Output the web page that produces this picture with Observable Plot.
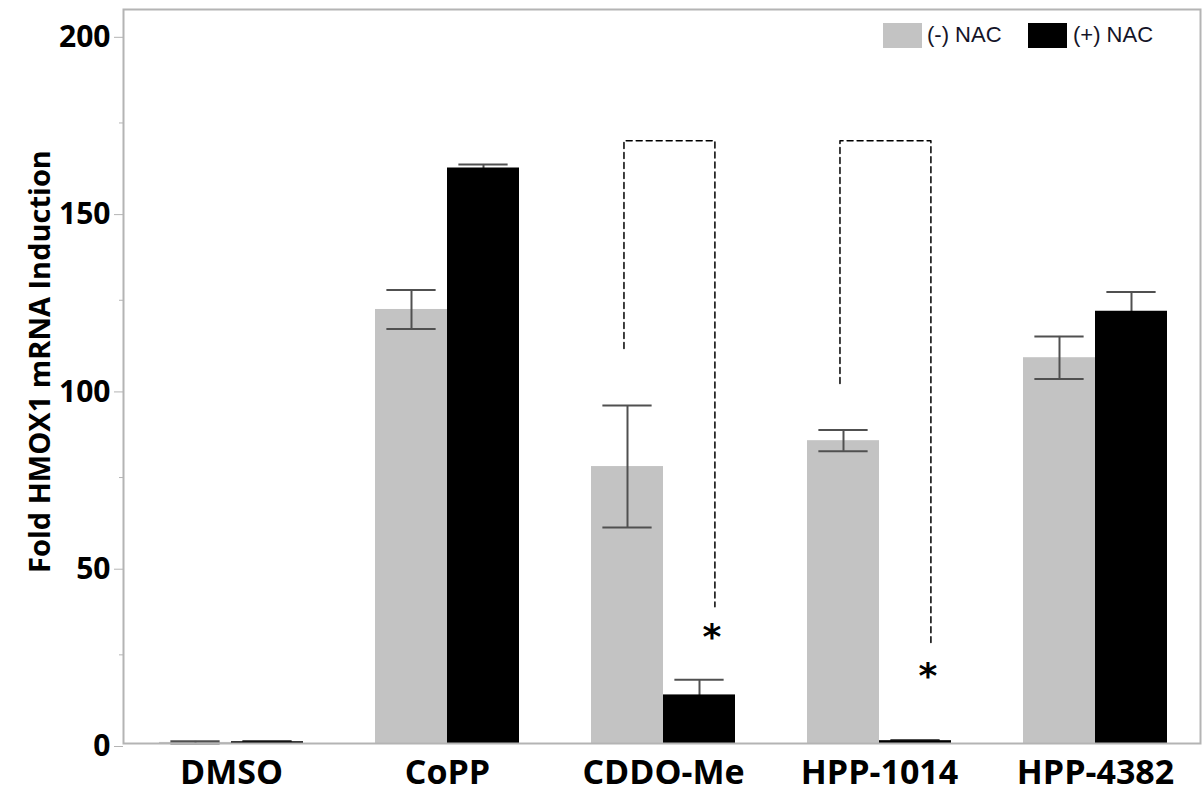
<!DOCTYPE html>
<html>
<head>
<meta charset="utf-8">
<script src="https://cdn.jsdelivr.net/npm/d3@7"></script>
<script src="https://cdn.jsdelivr.net/npm/@observablehq/plot@0.6"></script>
<style>
  html, body { margin: 0; padding: 0; background: #fff; }
  #wrap { position: relative; width: 1202px; height: 794px; }
  .leg { position: absolute; font-family: "Liberation Sans", Arial, sans-serif; font-size: 22px; color: #141428; }
  .sw { position: absolute; width: 39px; height: 25px; }
</style>
</head>
<body>
<div id="wrap"></div>
<script>
// ---- data ----
const groups = ["DMSO", "CoPP", "CDDO-Me", "HPP-1014", "HPP-4382"];
const series = ["(-) NAC", "(+) NAC"];
const minusNAC = [0.3, 122.4, 78.1, 85.4, 108.8];
const minusErr = [0.3, 5.5, 17.2, 3.0, 6.0];
const plusNAC  = [0.5, 162.3, 13.7, 0.8, 121.9];
const plusErr  = [0.2, 1.0, 4.3, 0.2, 5.4];
const yTicks = [0, 50, 100, 150, 200];
const yMinorTicks = [25, 75, 125, 175];
// significance brackets
const bracketGroups = ["CDDO-Me", "HPP-1014"];
const bracketLeftBottom = [111.4, 101.5];
const bracketRightBottom = [38.6, 28.5];
const bracketTop = [170, 170];
const starGroups = ["CDDO-Me", "HPP-1014"];
const starValues = [30, 18.8];

// ---- build tables ----
const gi = g => groups.indexOf(g);
const minusRows = groups.map((g, i) => ({group: g, series: series[0], value: minusNAC[i], err: minusErr[i]}));
const plusRows  = groups.map((g, i) => ({group: g, series: series[1], value: plusNAC[i], err: plusErr[i]}));

const BW = 1 / 3;        // bar width in group units
const CAP = 0.114;       // half cap width
const offL = -0.183, offR = 0.238;

const brackets = bracketGroups.flatMap((g, k) => {
  const i = gi(g);
  return [
    {k, x: i + offL, y: bracketLeftBottom[k]},
    {k, x: i + offL, y: bracketTop[k]},
    {k, x: i + offR, y: bracketTop[k]},
    {k, x: i + offR, y: bracketRightBottom[k]}
  ];
});
const stars = starGroups.map((g, k) => ({x: gi(g) + 0.224, y: starValues[k]}));

const errMarks = (rows, off, color) => [
  Plot.ruleX(rows, {x: d => gi(d.group) + off, y1: d => d.value - d.err, y2: d => d.value + d.err, stroke: color, strokeWidth: 2}),
  Plot.ruleY(rows, {y: d => d.value + d.err, x1: d => gi(d.group) + off - CAP, x2: d => gi(d.group) + off + CAP, stroke: color, strokeWidth: 2}),
  Plot.ruleY(rows, {y: d => d.value - d.err, x1: d => gi(d.group) + off - CAP, x2: d => gi(d.group) + off + CAP, stroke: color, strokeWidth: 2})
];

const chart = Plot.plot({
  width: 1202,
  height: 794,
  marginLeft: 123,
  marginRight: 2,
  marginTop: 9,
  marginBottom: 51,
  style: {background: "#fff"},
  x: {type: "linear", domain: [-0.5, 4.5], range: [123, 1203], axis: null},
  y: {domain: [0, 207], axis: null},
  marks: [
    Plot.rectY(minusRows, {x1: d => gi(d.group) - BW, x2: d => gi(d.group), y1: 0, y2: "value", fill: "#c3c3c3"}),
    ...errMarks(minusRows, -BW / 2, "#505050"),
    ...errMarks(plusRows, BW / 2, "#505050"),
    Plot.rectY(plusRows, {x1: d => gi(d.group), x2: d => gi(d.group) + BW, y1: 0, y2: "value", fill: "#000"}),
    Plot.line(brackets, {x: "x", y: "y", z: "k", stroke: "#000", strokeWidth: 1.5, strokeDasharray: "6,4"}),
    Plot.text(stars, {x: "x", y: "y", text: () => "*", fontFamily: "DejaVu Sans", fontWeight: "bold", fontSize: 36, fill: "#000"}),
    Plot.frame({stroke: "#b4b4b4", strokeWidth: 2}),
    Plot.axisY({ticks: yTicks, tickSize: 9, tickPadding: 4, stroke: "#b4b4b4", fontSize: 30, fontWeight: "bold", fontFamily: "Open Sans", fill: "#000", dy: 3, label: null}),
    Plot.axisY({ticks: yMinorTicks, tickSize: 4, tickFormat: () => "", stroke: "#b4b4b4", label: null}),
    Plot.axisX({ticks: [0, 1, 2, 3, 4], tickFormat: i => groups[i], tickSize: 0, tickPadding: 16, fontSize: 34, fontWeight: "bold", fontFamily: "Open Sans", fill: "#000", label: null}),
    Plot.text(["Fold HMOX1 mRNA Induction"], {frameAnchor: "left", rotate: -90, dx: -83, dy: -15, textAnchor: "middle", lineAnchor: "middle", fontSize: 29, fontWeight: "bold", fontFamily: "Open Sans", fill: "#000"})
  ]
});

const wrap = document.getElementById("wrap");
wrap.appendChild(chart);

// legend (inside plot, top right)
const legendItems = [
  {label: series[0], color: "#c3c3c3", box: 883, text: 927},
  {label: series[1], color: "#000", box: 1028, text: 1073}
];
for (const it of legendItems) {
  const sw = document.createElement("div");
  sw.className = "sw";
  sw.style.left = it.box + "px";
  sw.style.top = "23px";
  sw.style.background = it.color;
  wrap.appendChild(sw);
  const t = document.createElement("div");
  t.className = "leg";
  t.style.left = it.text + "px";
  t.style.top = "22px";
  t.style.lineHeight = "26px";
  t.textContent = it.label;
  wrap.appendChild(t);
}
</script>
</body>
</html>
